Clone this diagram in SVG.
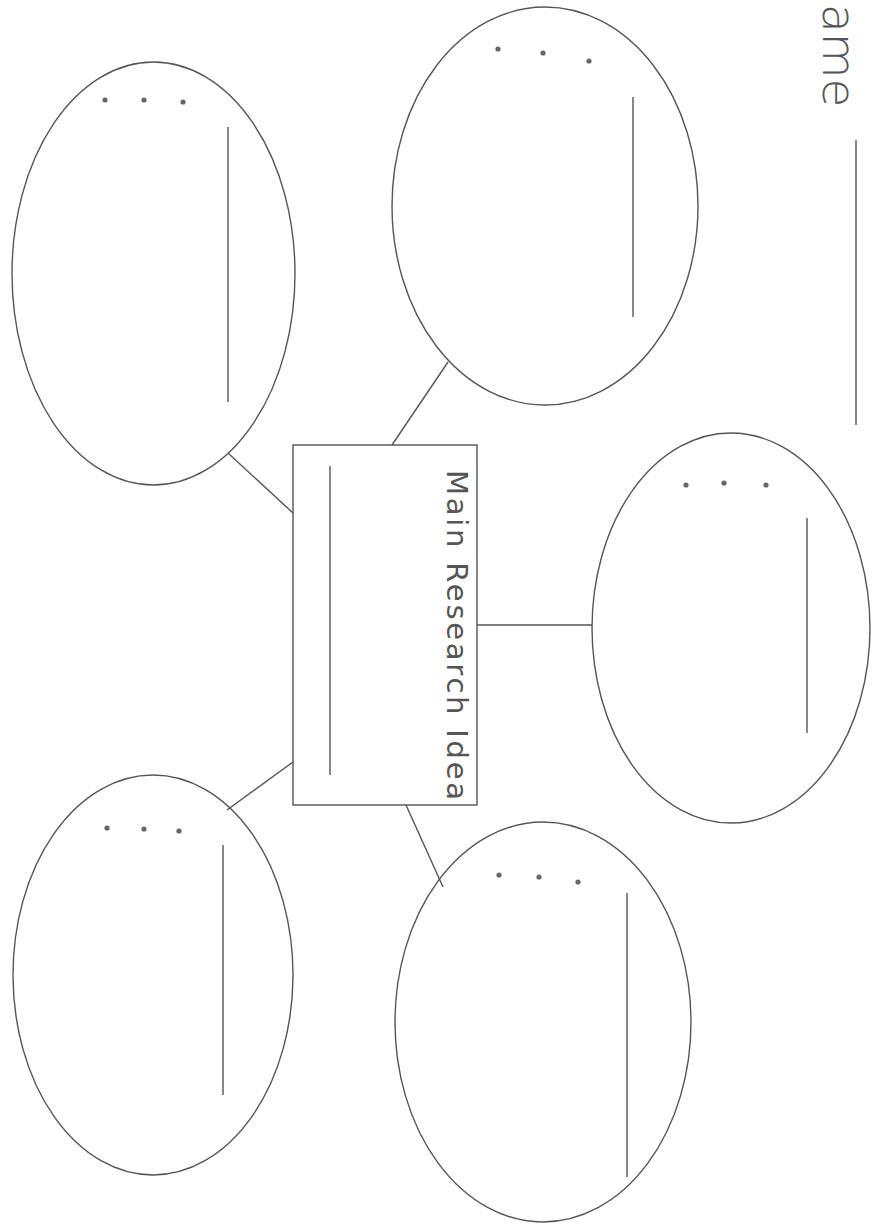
<svg xmlns="http://www.w3.org/2000/svg" width="872" height="1228" viewBox="0 0 872 1228">
<style>
.sh{fill:none;stroke:#555;stroke-width:1.4}
.ln{stroke:#555;stroke-width:1.4}
.dt{fill:#666}
.tx{font-family:"DejaVu Sans","Liberation Sans",sans-serif;fill:#555}
</style>
<rect width="872" height="1228" fill="#fff"/>
<g id="name">
<text class="tx" x="4" y="-823" transform="rotate(90)" font-size="47" font-weight="200">ame</text>
<line class="ln" x1="856" y1="140" x2="856" y2="425"/>
</g>
<g id="connectors">
<line class="ln" x1="228" y1="453" x2="293" y2="513"/>
<line class="ln" x1="448" y1="362" x2="392" y2="445"/>
<line class="ln" x1="477" y1="625" x2="592" y2="625"/>
<line class="ln" x1="293" y1="762" x2="227" y2="810"/>
<line class="ln" x1="406" y1="805" x2="443" y2="887"/>
</g>
<g id="main">
<rect class="sh" x="293" y="445" width="184" height="360"/>
<line class="ln" x1="330" y1="466" x2="330" y2="775"/>
<text class="tx" x="470" y="-447" transform="rotate(90)" font-size="29" textLength="330">Main Research Idea</text>
</g>
<g id="n1">
<ellipse class="sh" cx="153.5" cy="273.5" rx="141.5" ry="211.5"/>
<circle class="dt" cx="105" cy="100" r="2.6"/><circle class="dt" cx="144" cy="100" r="2.6"/><circle class="dt" cx="183" cy="102" r="2.6"/>
<line class="ln" x1="228" y1="127" x2="228" y2="402"/>
</g>
<g id="n2">
<ellipse class="sh" cx="545" cy="206" rx="153" ry="199"/>
<circle class="dt" cx="498" cy="49" r="2.6"/><circle class="dt" cx="543" cy="53" r="2.6"/><circle class="dt" cx="589" cy="61" r="2.6"/>
<line class="ln" x1="633" y1="97" x2="633" y2="317"/>
</g>
<g id="n3">
<ellipse class="sh" cx="731" cy="628" rx="139" ry="195"/>
<circle class="dt" cx="686" cy="485" r="2.6"/><circle class="dt" cx="724" cy="483" r="2.6"/><circle class="dt" cx="766" cy="485" r="2.6"/>
<line class="ln" x1="807" y1="518" x2="807" y2="733"/>
</g>
<g id="n4">
<ellipse class="sh" cx="153" cy="975" rx="140" ry="200"/>
<circle class="dt" cx="107" cy="828" r="2.6"/><circle class="dt" cx="144" cy="829" r="2.6"/><circle class="dt" cx="179" cy="831" r="2.6"/>
<line class="ln" x1="223" y1="845" x2="223" y2="1095"/>
</g>
<g id="n5">
<ellipse class="sh" cx="543" cy="1022" rx="148" ry="200"/>
<circle class="dt" cx="499" cy="875" r="2.6"/><circle class="dt" cx="539" cy="877" r="2.6"/><circle class="dt" cx="578" cy="882" r="2.6"/>
<line class="ln" x1="627" y1="893" x2="627" y2="1177"/>
</g>
</svg>
